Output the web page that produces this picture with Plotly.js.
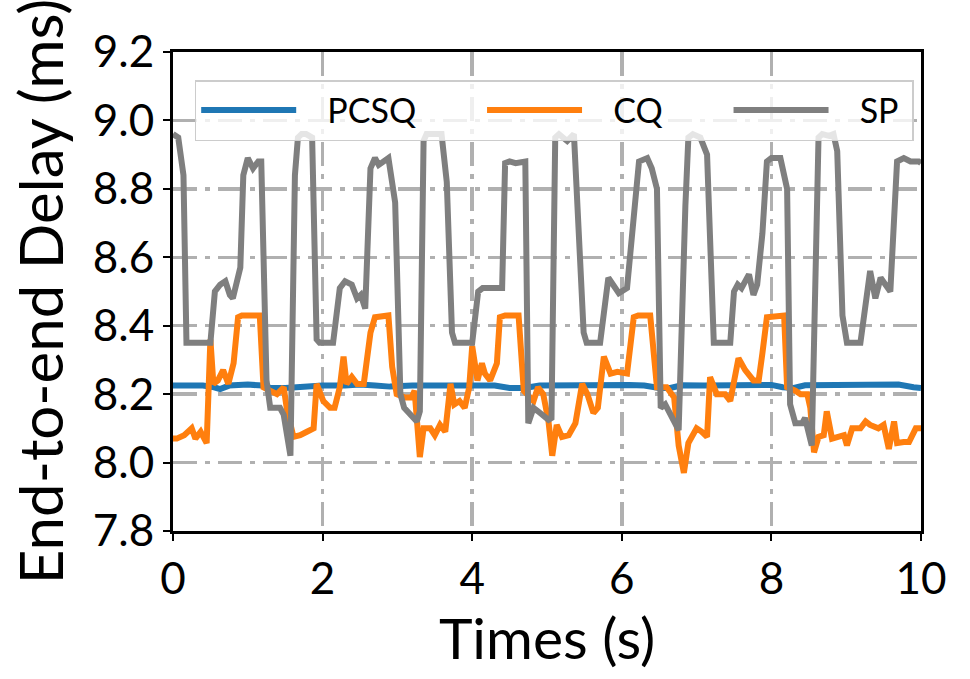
<!DOCTYPE html>
<html>
<head>
<meta charset="utf-8">
<script src="https://cdn.plot.ly/plotly-3.0.1.min.js"></script>
<style>
  html, body { margin: 0; padding: 0; background: #ffffff; }
  #chart { width: 970px; height: 679px; }
</style>
</head>
<body>
<div id="chart"></div>
<script>
// values
var pcsqTime = [0, 0.4, 0.55, 0.63, 0.75, 1.0, 1.2, 1.3, 1.5, 1.7, 2.0, 2.3, 2.5, 2.7, 2.9, 3.2, 3.5, 3.8, 4.1, 4.3, 4.5, 4.7, 4.9, 5.2, 5.5, 5.8, 6.1, 6.3, 6.5, 6.65, 6.8, 7.1, 7.4, 7.7, 8.0, 8.15, 8.3, 8.45, 8.8, 9.2, 9.5, 9.7, 9.9, 10];
var pcsqDelay = [8.225, 8.225, 8.22, 8.215, 8.225, 8.228, 8.225, 8.218, 8.218, 8.222, 8.225, 8.225, 8.228, 8.225, 8.222, 8.225, 8.226, 8.225, 8.227, 8.225, 8.218, 8.218, 8.225, 8.226, 8.226, 8.225, 8.227, 8.225, 8.218, 8.218, 8.226, 8.225, 8.226, 8.227, 8.227, 8.22, 8.218, 8.226, 8.226, 8.226, 8.226, 8.228, 8.22, 8.218];

var cqTime = [0, 0.05, 0.15, 0.25, 0.3, 0.37, 0.45, 0.5, 0.54, 0.6, 0.67, 0.74, 0.81, 0.87, 0.92, 1.16, 1.21, 1.3, 1.39, 1.48, 1.52, 1.61, 1.7, 1.79, 1.88, 1.92, 2.01, 2.1, 2.16, 2.23, 2.28, 2.32, 2.39, 2.46, 2.55, 2.64, 2.7, 2.88, 2.93, 2.99, 3.1, 3.19, 3.23, 3.3, 3.35, 3.44, 3.5, 3.57, 3.64, 3.71, 3.76, 3.83, 3.9, 3.96, 4.0, 4.07, 4.13, 4.17, 4.24, 4.33, 4.37, 4.44, 4.62, 4.69, 4.82, 4.88, 4.95, 5.02, 5.07, 5.13, 5.2, 5.29, 5.38, 5.47, 5.54, 5.62, 5.68, 5.76, 5.85, 5.94, 6.07, 6.16, 6.22, 6.38, 6.47, 6.6, 6.7, 6.76, 6.83, 6.89, 7.0, 7.07, 7.14, 7.18, 7.27, 7.38, 7.45, 7.56, 7.65, 7.76, 7.83, 7.88, 7.94, 8.17, 8.21, 8.32, 8.39, 8.48, 8.52, 8.57, 8.63, 8.7, 8.74, 8.81, 8.9, 8.97, 9.01, 9.08, 9.19, 9.26, 9.32, 9.43, 9.5, 9.57, 9.64, 9.68, 9.77, 9.84, 9.93, 10];
var cqDelay = [8.07, 8.07, 8.08, 8.10, 8.07, 8.09, 8.057, 8.36, 8.23, 8.24, 8.27, 8.23, 8.29, 8.425, 8.43, 8.43, 8.22, 8.21, 8.20, 8.22, 8.16, 8.075, 8.08, 8.09, 8.10, 8.23, 8.18, 8.16, 8.16, 8.22, 8.31, 8.23, 8.25, 8.23, 8.23, 8.38, 8.425, 8.43, 8.28, 8.20, 8.19, 8.19, 8.21, 8.016, 8.10, 8.10, 8.08, 8.11, 8.09, 8.23, 8.17, 8.18, 8.16, 8.22, 8.34, 8.24, 8.29, 8.26, 8.24, 8.29, 8.425, 8.43, 8.43, 8.21, 8.18, 8.22, 8.20, 8.12, 8.02, 8.11, 8.075, 8.08, 8.115, 8.23, 8.20, 8.145, 8.16, 8.31, 8.26, 8.265, 8.26, 8.425, 8.43, 8.43, 8.22, 8.22, 8.19, 8.05, 7.97, 8.057, 8.10, 8.09, 8.075, 8.25, 8.20, 8.20, 8.18, 8.305, 8.27, 8.24, 8.24, 8.32, 8.425, 8.43, 8.22, 8.21, 8.20, 8.20, 8.16, 8.03, 8.075, 8.08, 8.15, 8.07, 8.075, 8.08, 8.05, 8.10, 8.10, 8.12, 8.11, 8.10, 8.11, 8.04, 8.12, 8.057, 8.06, 8.06, 8.10, 8.10];

var spTime = [0, 0.07, 0.14, 0.18, 0.5, 0.56, 0.63, 0.7, 0.76, 0.8, 0.9, 0.94, 1.0, 1.07, 1.14, 1.18, 1.25, 1.3, 1.43, 1.48, 1.57, 1.63, 1.67, 1.72, 1.78, 1.86, 1.92, 1.96, 2.14, 2.23, 2.3, 2.39, 2.46, 2.51, 2.57, 2.64, 2.7, 2.75, 2.88, 2.97, 3.04, 3.09, 3.26, 3.3, 3.35, 3.39, 3.59, 3.66, 3.73, 3.77, 4.0, 4.08, 4.14, 4.24, 4.4, 4.44, 4.5, 4.58, 4.71, 4.75, 4.82, 4.88, 5.02, 5.06, 5.11, 5.16, 5.27, 5.36, 5.44, 5.49, 5.53, 5.71, 5.82, 5.9, 5.96, 6.07, 6.16, 6.23, 6.34, 6.4, 6.47, 6.52, 6.58, 6.68, 6.76, 6.85, 6.89, 6.95, 7.05, 7.14, 7.21, 7.23, 7.45, 7.5, 7.55, 7.6, 7.7, 7.76, 7.81, 7.88, 7.94, 8.0, 8.12, 8.21, 8.25, 8.32, 8.41, 8.45, 8.54, 8.63, 8.68, 8.77, 8.83, 8.88, 8.95, 9.01, 9.19, 9.26, 9.32, 9.39, 9.46, 9.59, 9.68, 9.77, 9.86, 9.97, 10];
var spDelay = [8.96, 8.95, 8.84, 8.35, 8.35, 8.50, 8.52, 8.53, 8.49, 8.48, 8.57, 8.84, 8.89, 8.86, 8.88, 8.88, 8.24, 8.16, 8.16, 8.14, 8.02, 8.84, 8.95, 8.96, 8.96, 8.95, 8.36, 8.35, 8.35, 8.51, 8.53, 8.52, 8.48, 8.49, 8.45, 8.86, 8.89, 8.87, 8.89, 8.76, 8.20, 8.16, 8.12, 8.15, 8.94, 8.96, 8.96, 8.82, 8.38, 8.35, 8.35, 8.50, 8.51, 8.51, 8.51, 8.875, 8.88, 8.875, 8.88, 8.115, 8.16, 8.15, 8.125, 8.13, 8.95, 8.96, 8.94, 8.96, 8.65, 8.38, 8.35, 8.35, 8.54, 8.51, 8.495, 8.51, 8.70, 8.88, 8.89, 8.86, 8.80, 8.16, 8.17, 8.13, 8.095, 8.75, 8.95, 8.96, 8.95, 8.90, 8.36, 8.35, 8.35, 8.50, 8.52, 8.51, 8.55, 8.49, 8.52, 8.67, 8.88, 8.89, 8.89, 8.80, 8.17, 8.115, 8.115, 8.13, 8.05, 8.95, 8.96, 8.955, 8.96, 8.91, 8.43, 8.35, 8.35, 8.48, 8.56, 8.48, 8.54, 8.50, 8.88, 8.89, 8.88, 8.88, 8.875];

var seriesNames = ['PCSQ', 'CQ', 'SP'];
var xTicks = [0, 2, 4, 6, 8, 10];
var yTicks = [7.8, 8.0, 8.2, 8.4, 8.6, 8.8, 9.0, 9.2];

var font = 'Lato, "Open Sans", sans-serif';
var nb = '\u00a0';

// pad legend labels with no-break spaces so the entries sit where the reference has them
function legendLabel(name, trailing) {
  return nb.repeat(3) + name + nb.repeat(trailing);
}

function makeLine(x, y, name, color) {
  return {
    x: x,
    y: y,
    mode: 'lines',
    name: name,
    line: { color: color, width: 6 }
  };
}

var data = [
  makeLine(pcsqTime, pcsqDelay, legendLabel(seriesNames[0], 7), '#1f77b4'),
  makeLine(cqTime, cqDelay, legendLabel(seriesNames[1], 7), '#ff7f0e'),
  makeLine(spTime, spDelay, legendLabel(seriesNames[2], 1), '#7f7f7f')
];

var axisStyle = {
  showline: true,
  mirror: true,
  linecolor: '#000000',
  linewidth: 3,
  ticks: 'outside',
  ticklen: 7,
  tickwidth: 2,
  tickcolor: '#000000',
  showgrid: true,
  gridcolor: '#b0b0b0',
  gridwidth: 3.5,
  griddash: '24px,8px,5px,8px',
  zeroline: false,
  tickfont: { family: font, size: 44, color: '#000000' }
};

var layout = {
  width: 970,
  height: 679,
  margin: { l: 173, r: 49, t: 52, b: 148 },
  paper_bgcolor: '#ffffff',
  plot_bgcolor: '#ffffff',
  showlegend: true,
  legend: {
    orientation: 'h',
    x: 0.029,
    y: 0.9415,
    xanchor: 'left',
    yanchor: 'top',
    bgcolor: 'rgba(255,255,255,0.8)',
    bordercolor: '#cccccc',
    borderwidth: 1.5,
    itemwidth: 95,
    font: { family: font, size: 34, color: '#000000' }
  },
  xaxis: Object.assign({}, axisStyle, {
    range: [0, 10],
    tickvals: xTicks,
    ticktext: xTicks.map(String),
    title: { text: 'Times (s)', font: { family: font, size: 57, color: '#000000' }, standoff: 12 }
  }),
  yaxis: Object.assign({}, axisStyle, {
    range: [7.8, 9.2],
    tickvals: yTicks,
    ticktext: yTicks.map(function (v) { return v.toFixed(1); }),
    title: { text: 'End-to-end Delay (ms)', font: { family: font, size: 60, color: '#000000' }, standoff: 10 }
  })
};

Plotly.newPlot(document.getElementById('chart'), data, layout, { displayModeBar: false, staticPlot: true });
</script>
</body>
</html>
